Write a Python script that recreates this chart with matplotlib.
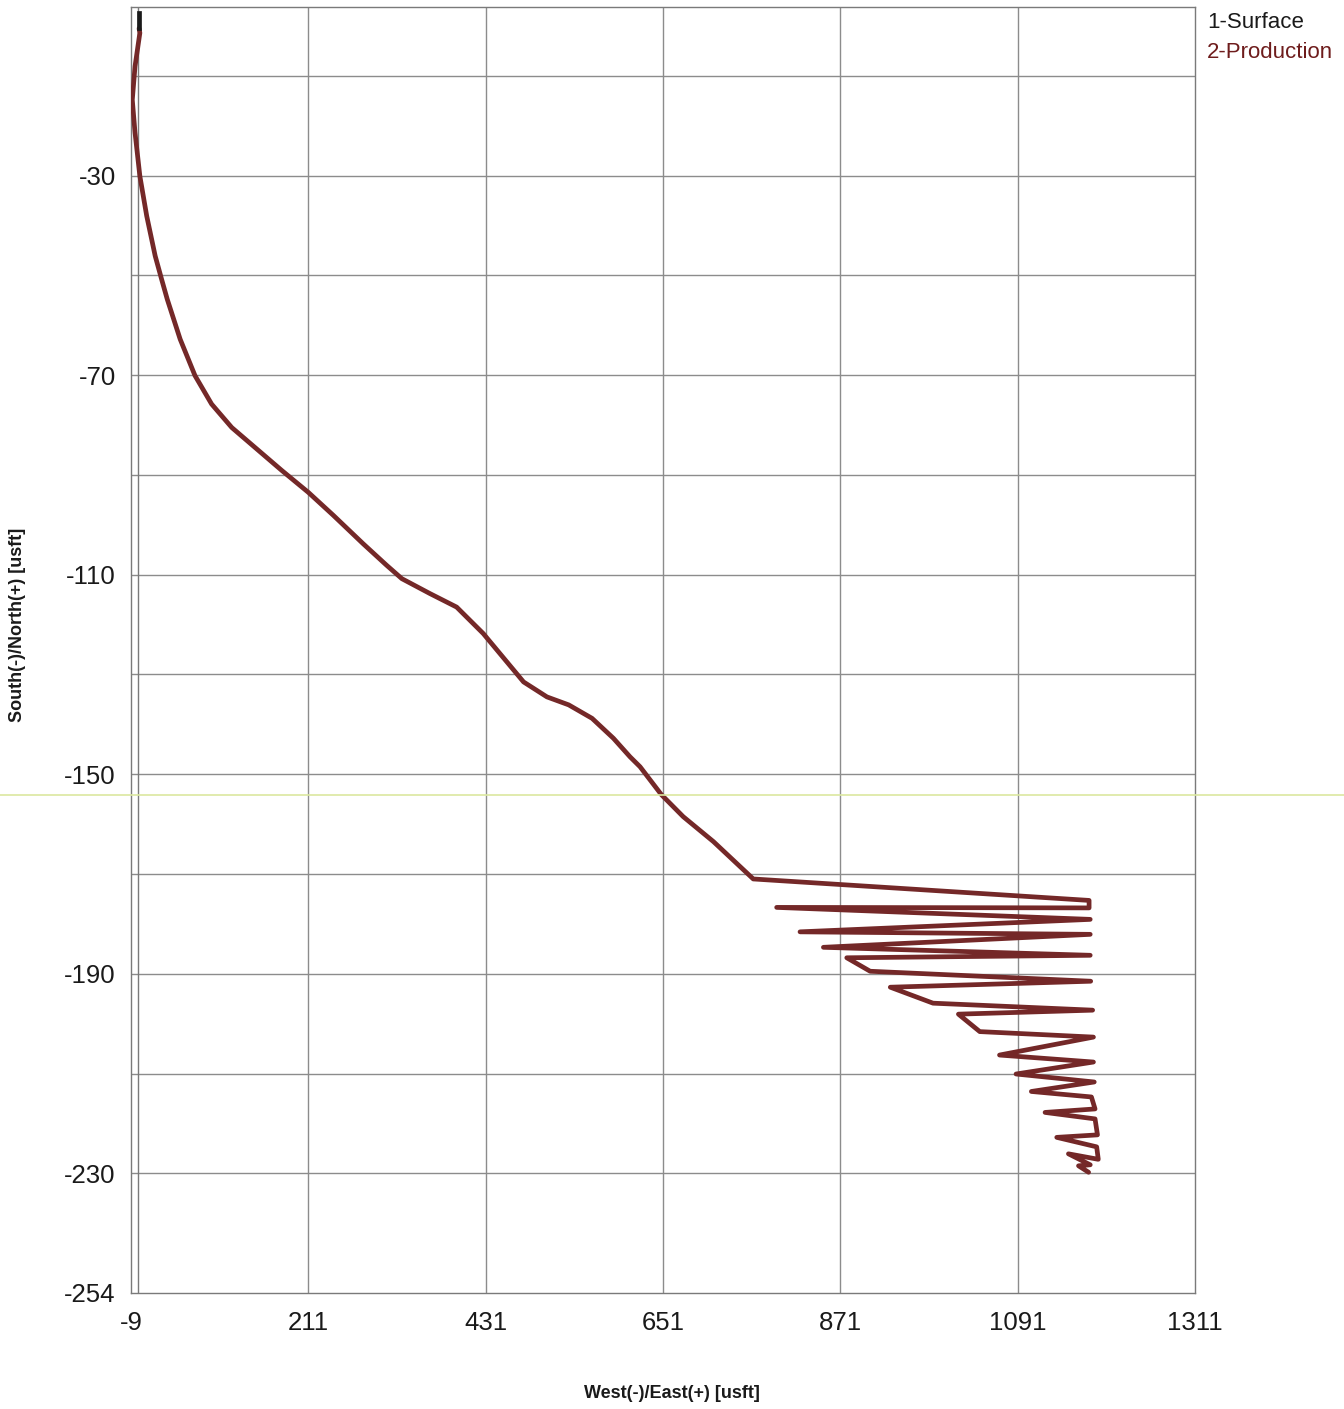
import matplotlib
matplotlib.use("Agg")
import matplotlib.pyplot as plt
from matplotlib.lines import Line2D

plt.rcParams['font.family'] = ['Liberation Sans', 'DejaVu Sans']

# 1-Surface segment
surface_ew = [1.0, 1.0]
surface_ns = [2.6, -0.5]

# 2-Production path (East/West, South/North) in usft
prod_ew = [1, 2, -4, -7.4, -4, 2, 10.5, 21, 29, 36, 52, 70.4, 91, 116, 147, 178, 211,
           242, 279, 308, 327, 362, 395, 428, 478, 507, 534, 563, 589.5, 610, 622.5,
           649, 676, 713.5, 763,
           1179.6, 1179.6, 792, 1181, 821, 1181, 850, 1181, 879, 908, 1181.6, 933, 986,
           1184, 1017.5, 1044, 1185, 1068.5, 1185, 1089, 1186, 1108, 1182.5, 1187,
           1125, 1187, 1190, 1139.5, 1189, 1191, 1154, 1181, 1166.5, 1179]
prod_ns = [-0.5, -1.4, -8.1, -14.8, -21.4, -30.1, -38.1, -46.1, -50.8, -54.8, -62.8,
           -70.1, -75.8, -80.5, -84.8, -89.1, -93.5, -98.1, -103.8, -108.1, -110.8,
           -113.8, -116.5, -121.8, -131.5, -134.5, -136.1, -138.8, -142.8, -146.5,
           -148.5, -154.1, -158.5, -163.5, -171,
           -175.3, -176.8, -176.7, -179.1, -181.6, -182.1, -184.7, -186.3, -186.8,
           -189.5, -191.5, -192.7, -195.9, -197.3, -198.1, -201.6, -202.7, -206.3,
           -207.7, -210.1, -211.7, -213.6, -214.7, -217.1, -217.8, -219.1, -222.3,
           -222.8, -224.7, -227.2, -226.1, -228.3, -228.5, -229.8]

x_ticks = [-9, 211, 431, 651, 871, 1091, 1311]
y_labels = [-30, -70, -110, -150, -190, -230, -254]
y_grid = [-10, -30, -50, -70, -90, -110, -130, -150, -170, -190, -210, -230]
legend_names = ['1-Surface', '2-Production']

W, H = 1344, 1409
fig = plt.figure(figsize=(W / 100, H / 100), dpi=100)
ax = fig.add_axes([131 / W, 1 - 1293 / H, 1064 / W, 1286 / H])

ax.set_xlim(-9, 1311)
ax.set_ylim(-254, 3.8)

grid_c = '#8c8c8c'
for yv in y_grid:
    ax.axhline(yv, color=grid_c, lw=1.0, zorder=1)
for xv in x_ticks[1:-1]:
    ax.axvline(xv, color=grid_c, lw=1.0, zorder=1)
ax.axvline(0, color='#7a7a7a', lw=1.0, zorder=1)

ax.plot(prod_ew, prod_ns, color='#742828', lw=3.4, solid_joinstyle='round',
        solid_capstyle='round', zorder=3)
ax.plot(surface_ew, surface_ns, color='#1a1a1a', lw=3.4, zorder=4)

ax.set_xticks(x_ticks)
ax.set_xticklabels([str(v) for v in x_ticks])
ax.set_yticks(y_labels)
ax.set_yticklabels([str(v) for v in y_labels])
ax.tick_params(axis='both', length=0, labelsize=18.5, colors='#1a1a1a')
ax.tick_params(axis='x', pad=13)
ax.tick_params(axis='y', pad=11)
for s in ax.spines.values():
    s.set_color('#7a7a7a')
    s.set_linewidth(1.0)

fig.text(672 / W, 1 - 1393 / H, 'West(-)/East(+) [usft]', ha='center', va='center',
         fontsize=13, fontweight='bold', color='#1a1a1a')
fig.text(18 / W, 1 - 625 / H, 'South(-)/North(+) [usft]', ha='center', va='center',
         rotation=90, fontsize=13, fontweight='bold', color='#1a1a1a')

fig.text(1207 / W, 1 - 23 / H, legend_names[0], ha='left', va='center',
         fontsize=16, color='#1a1a1a')
fig.text(1207 / W, 1 - 52 / H, legend_names[1], ha='left', va='center',
         fontsize=16, color='#6e1c1c')

# faint scanner line across the page
fig.add_artist(Line2D([0, 1], [1 - 795 / H, 1 - 795 / H], transform=fig.transFigure,
                      color='#dbe8a0', lw=1.2, zorder=5))

fig.savefig('out.png', dpi=100, facecolor='white')
